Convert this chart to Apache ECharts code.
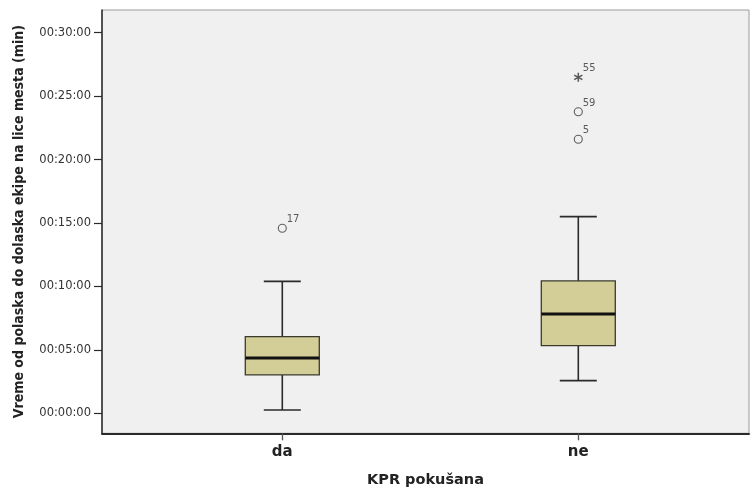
<!DOCTYPE html>
<html>
<head>
<meta charset="utf-8">
<script src="https://cdn.jsdelivr.net/npm/echarts@6/dist/echarts.min.js"></script>
<style>
  html, body { margin: 0; padding: 0; background: #ffffff; }
  #chart { width: 750px; height: 488px; }
</style>
</head>
<body>
<div id="chart"></div>
<script>
// Response time (minutes) by whether CPR was attempted
const categories = ['da', 'ne'];
const whiskerLow  = [0.26, 2.57];
const quartile1   = [3.02, 5.33];
const medians     = [4.36, 7.83];
const quartile3   = [6.04, 10.43];
const whiskerHigh = [10.40, 15.50];

// Outliers: category index, value (minutes), case id, marker kind
const outlierCats   = [0, 1, 1, 1];
const outlierValues = [14.58, 26.48, 23.77, 21.60];
const outlierIds    = ['17', '55', '59', '5'];
const outlierKinds  = ['circle', 'extreme', 'circle', 'circle'];

// Axis tick values (minutes)
const yTicks = [0, 5, 10, 15, 20, 25, 30];

const Y_MIN = -1.58, Y_MAX = 31.79;

// Frame layout (px) and category centre spacing
const FRAME_LEFT = 102, FRAME_RIGHT = 749, FIRST_CENTER = 282.3, CENTER_STEP = 296;

function fmtTime(m) {
  const mm = String(Math.round(m)).padStart(2, '0');
  return '00:' + mm + ':00';
}

const boxData = categories.map((c, i) => [i, whiskerLow[i], quartile1[i], medians[i], quartile3[i], whiskerHigh[i]]);
const categoryIdx = categories.map((c, i) => i);

const asteriskPath = 'path://M-0.8,-5 L0.8,-5 L0.8,5 L-0.8,5 Z ' +
  'M3.93,3.19 L-4.73,-1.81 L-3.93,-3.19 L4.73,1.81 Z ' +
  'M4.73,-1.81 L-3.93,3.19 L-4.73,1.81 L3.93,-3.19 Z';

const outlierData = outlierCats.map((c, i) => ({
  value: [c, outlierValues[i]],
  name: outlierIds[i],
  symbol: outlierKinds[i] === 'extreme' ? asteriskPath : 'circle',
  symbolSize: outlierKinds[i] === 'extreme' ? 9 : 8,
  itemStyle: outlierKinds[i] === 'extreme'
    ? { color: '#333333', borderWidth: 0 }
    : { color: 'rgba(0,0,0,0)', borderColor: '#3a3a3a', borderWidth: 1.1 }
}));

const chart = echarts.init(document.getElementById('chart'), null, { renderer: 'canvas' });

const axisLineStyle = { color: '#2a2a2a', width: 2 };
// frame x axis: category i sits at value i
const frameXMin = (FRAME_LEFT - FIRST_CENTER) / CENTER_STEP;
const frameXMax = (FRAME_RIGHT - FIRST_CENTER) / CENTER_STEP;
const dataLeft = FIRST_CENTER - CENTER_STEP / 2;
const dataRight = 750 - (FIRST_CENTER + CENTER_STEP * (categories.length - 0.5));

chart.setOption({
  animation: false,
  backgroundColor: '#ffffff',
  grid: [
    { left: FRAME_LEFT, right: 750 - FRAME_RIGHT, top: 10, bottom: 54.7, show: true,
      outerBoundsMode: 'none', containLabel: false,
      backgroundColor: '#f0f0f0', borderColor: '#9a9a9a', borderWidth: 1 },
    { left: dataLeft, right: dataRight, top: 10, bottom: 54.7, outerBoundsMode: 'none', containLabel: false }
  ],
  xAxis: [
    { gridIndex: 0, type: 'value', min: frameXMin, max: frameXMax,
      axisLine: { show: true, onZero: false, lineStyle: axisLineStyle },
      axisTick: { show: true, customValues: categoryIdx, length: 7,
        lineStyle: { color: '#555', width: 1.3 } },
      axisLabel: { show: true, customValues: categoryIdx, margin: 11,
        formatter: v => categories[Math.round(v)],
        fontFamily: 'DejaVu Sans', fontWeight: 'bold', fontSize: 15, color: '#222' },
      splitLine: { show: false },
      name: 'KPR pokušana', nameLocation: 'middle', nameGap: 39,
      nameTextStyle: { fontFamily: 'DejaVu Sans', fontWeight: 'bold', fontSize: 14.5, color: '#222' } },
    { gridIndex: 1, type: 'category', data: categories, show: false }
  ],
  yAxis: [
    { gridIndex: 0, type: 'value', min: Y_MIN, max: Y_MAX,
      axisLine: { show: true, onZero: false, lineStyle: { color: '#2a2a2a', width: 1.5 } },
      axisTick: { show: true, customValues: yTicks, length: 8, lineStyle: { color: '#2a2a2a', width: 1.2 } },
      axisLabel: { customValues: yTicks, margin: 11, formatter: fmtTime,
        fontFamily: 'DejaVu Sans', fontSize: 11.5, color: '#333' },
      splitLine: { show: false },
      name: 'Vreme od polaska do dolaska ekipe na lice mesta (min)',
      nameLocation: 'middle', nameGap: 76, nameRotate: 90,
      nameTextStyle: { fontFamily: 'DejaVu Sans Condensed', fontWeight: 'bold', fontSize: 14, color: '#222' } },
    { gridIndex: 1, type: 'value', min: Y_MIN, max: Y_MAX, show: false }
  ],
  series: [
    {
      type: 'custom',
      xAxisIndex: 1, yAxisIndex: 1,
      data: boxData,
      encode: { x: 0, y: [1, 2, 3, 4, 5] },
      renderItem: function (params, api) {
        const idx = api.value(0);
        const band = api.size([1, 0])[0];
        const boxW = band * 0.25;
        const capW = boxW / 2;
        const pLow = api.coord([idx, api.value(1)]);
        const pQ1 = api.coord([idx, api.value(2)]);
        const pMed = api.coord([idx, api.value(3)]);
        const pQ3 = api.coord([idx, api.value(4)]);
        const pHigh = api.coord([idx, api.value(5)]);
        const cx = pMed[0];
        const lineStyle = { stroke: '#2a2a2a', lineWidth: 1.6 };
        return {
          type: 'group',
          children: [
            { type: 'line', shape: { x1: cx, y1: pHigh[1], x2: cx, y2: pQ3[1] }, style: lineStyle },
            { type: 'line', shape: { x1: cx, y1: pQ1[1], x2: cx, y2: pLow[1] }, style: lineStyle },
            { type: 'line', shape: { x1: cx - capW / 2, y1: pHigh[1], x2: cx + capW / 2, y2: pHigh[1] }, style: lineStyle },
            { type: 'line', shape: { x1: cx - capW / 2, y1: pLow[1], x2: cx + capW / 2, y2: pLow[1] }, style: lineStyle },
            { type: 'rect', shape: { x: cx - boxW / 2, y: pQ3[1], width: boxW, height: pQ1[1] - pQ3[1] },
              style: { fill: '#d3cd97', stroke: '#3a3a2e', lineWidth: 1.3 } },
            { type: 'line', shape: { x1: cx - boxW / 2, y1: pMed[1], x2: cx + boxW / 2, y2: pMed[1] },
              style: { stroke: '#111111', lineWidth: 3 } }
          ]
        };
      }
    },
    {
      type: 'scatter',
      xAxisIndex: 1, yAxisIndex: 1,
      data: outlierData,
      label: {
        show: true, position: [9, -9], formatter: '{b}',
        fontFamily: 'DejaVu Sans', fontSize: 10, color: '#333'
      }
    }
  ]
});
</script>
</body>
</html>
